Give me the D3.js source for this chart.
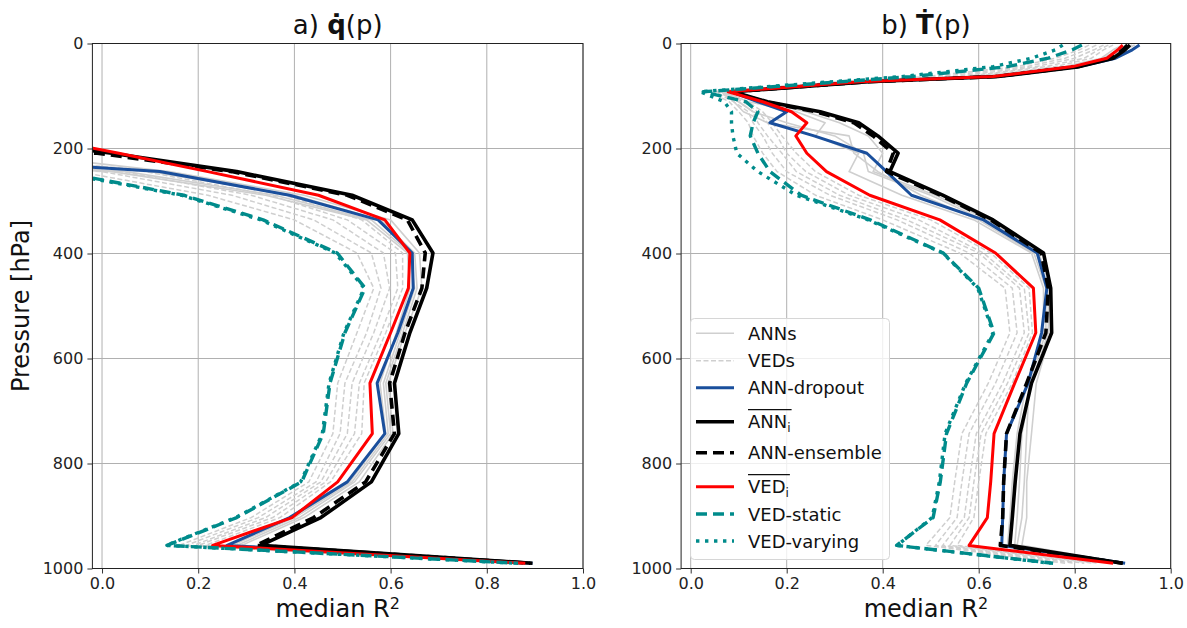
<!DOCTYPE html>
<html><head><meta charset="utf-8">
<script src="https://cdn.jsdelivr.net/npm/d3@7"></script>
<style>body{margin:0;background:#fff}text{font-family:"DejaVu Sans",sans-serif}</style>
</head><body><svg id="c" width="1187" height="628"></svg>
<script>
// pressure levels [hPa]
const levels = [3,12,28,44,63,73,92,111,130,151,176,209,244,289,336,399,466,551,647,743,835,903,956,990];
const xTicks = [0.0,0.2,0.4,0.6,0.8,1.0];
const yTicks = [0,200,400,600,800,1000];
const U = -3; // off-axis (strongly negative R2)

// ---- panel a: q-dot ----
const qANNs = [
  [U,U,U,U,U,U,U,U,U,U,-2,-0.3,0.10,0.40,0.58,0.65,0.655,0.625,0.59,0.60,0.525,0.41,0.28,0.89],
  [U,U,U,U,U,U,U,U,U,U,-2,-0.6,0.05,0.36,0.56,0.64,0.65,0.62,0.585,0.595,0.52,0.40,0.27,0.89],
  [U,U,U,U,U,U,U,U,U,U,-2,-0.2,0.14,0.42,0.60,0.66,0.665,0.63,0.595,0.605,0.535,0.42,0.29,0.89],
  [U,U,U,U,U,U,U,U,U,U,-2,-0.9,0.02,0.34,0.55,0.635,0.64,0.612,0.578,0.59,0.515,0.395,0.265,0.885]
];
const qVEDs = [
  [U,U,U,U,U,U,U,U,U,U,-2,-1.0,-0.05,0.22,0.40,0.53,0.565,0.53,0.49,0.48,0.43,0.31,0.16,0.87],
  [U,U,U,U,U,U,U,U,U,U,-2,-0.8,0.00,0.27,0.44,0.56,0.58,0.55,0.505,0.495,0.445,0.325,0.175,0.87],
  [U,U,U,U,U,U,U,U,U,U,-2,-0.6,0.04,0.31,0.48,0.585,0.598,0.565,0.52,0.51,0.455,0.34,0.19,0.875],
  [U,U,U,U,U,U,U,U,U,U,-2,-0.4,0.09,0.35,0.51,0.61,0.615,0.58,0.535,0.525,0.465,0.355,0.20,0.875],
  [U,U,U,U,U,U,U,U,U,U,-2,-0.3,0.12,0.38,0.54,0.625,0.625,0.59,0.545,0.54,0.475,0.37,0.215,0.88]
];
const qAnnDropout = [U,U,U,U,U,U,U,U,U,U,-2,-0.49,0.12,0.39,0.574,0.645,0.647,0.615,0.572,0.588,0.51,0.39,0.26,0.895];
const qAnnMean    = [U,U,U,U,U,U,U,U,U,U,-0.25,0.02,0.28,0.52,0.645,0.688,0.675,0.64,0.608,0.617,0.56,0.455,0.33,0.895];
const qAnnEns     = [U,U,U,U,U,U,U,U,U,U,-1,-0.01,0.27,0.51,0.635,0.672,0.665,0.63,0.598,0.608,0.548,0.44,0.32,0.89];
const qVedMean    = [U,U,U,U,U,U,U,U,U,U,-0.15,0.035,0.22,0.45,0.588,0.64,0.637,0.60,0.557,0.562,0.49,0.395,0.23,0.88];
const qVedStatic  = [U,U,U,U,U,U,U,U,U,U,-2,-1,-0.09,0.17,0.335,0.489,0.547,0.505,0.474,0.46,0.415,0.28,0.135,0.865];
const qVedVarying = [U,U,U,U,U,U,U,U,U,U,-2,-1,-0.10,0.165,0.33,0.485,0.545,0.503,0.472,0.458,0.413,0.278,0.133,0.86];

// ---- panel b: T-dot ----
const tANNs = [
  [0.92,0.90,0.87,0.80,0.62,0.34,0.07,0.10,0.13,0.20,0.30,0.36,0.37,0.50,0.61,0.72,0.745,0.745,0.71,0.69,0.685,0.68,0.675,0.90],
  [0.91,0.89,0.86,0.79,0.61,0.33,0.07,0.12,0.22,0.28,0.26,0.35,0.33,0.44,0.59,0.71,0.735,0.735,0.70,0.68,0.67,0.665,0.66,0.895],
  [0.90,0.88,0.855,0.78,0.60,0.32,0.065,0.09,0.11,0.16,0.33,0.34,0.39,0.48,0.60,0.715,0.74,0.74,0.705,0.70,0.695,0.69,0.68,0.90],
  [0.925,0.905,0.875,0.80,0.63,0.35,0.08,0.15,0.24,0.31,0.37,0.40,0.38,0.51,0.62,0.725,0.75,0.75,0.72,0.71,0.70,0.70,0.69,0.905]
];
const tVEDs = [
  [0.83,0.81,0.76,0.68,0.49,0.31,0.04,0.08,0.10,0.12,0.13,0.15,0.18,0.26,0.40,0.56,0.655,0.665,0.62,0.565,0.55,0.54,0.49,0.78],
  [0.845,0.825,0.78,0.70,0.52,0.32,0.05,0.09,0.12,0.13,0.15,0.17,0.20,0.29,0.43,0.58,0.67,0.68,0.635,0.58,0.565,0.555,0.51,0.80],
  [0.86,0.84,0.80,0.72,0.55,0.33,0.055,0.10,0.13,0.14,0.16,0.19,0.22,0.31,0.45,0.60,0.685,0.695,0.65,0.595,0.58,0.57,0.525,0.82],
  [0.87,0.85,0.82,0.74,0.57,0.34,0.06,0.11,0.14,0.16,0.18,0.20,0.24,0.33,0.475,0.61,0.695,0.705,0.66,0.605,0.59,0.58,0.54,0.84],
  [0.88,0.86,0.835,0.76,0.59,0.345,0.065,0.12,0.15,0.17,0.19,0.22,0.26,0.35,0.50,0.625,0.705,0.712,0.67,0.615,0.60,0.59,0.555,0.85]
];
const tAnnDropout = [0.935,0.92,0.885,0.81,0.64,0.36,0.085,0.14,0.20,0.165,0.257,0.367,0.408,0.46,0.61,0.722,0.742,0.731,0.703,0.658,0.652,0.65,0.648,0.905];
const tAnnMean    = [0.915,0.905,0.88,0.81,0.64,0.37,0.088,0.16,0.27,0.35,0.39,0.432,0.415,0.525,0.63,0.735,0.75,0.752,0.71,0.686,0.676,0.67,0.665,0.90];
const tAnnEns     = [0.91,0.90,0.875,0.805,0.635,0.365,0.085,0.155,0.26,0.34,0.38,0.422,0.408,0.52,0.625,0.73,0.745,0.74,0.70,0.658,0.652,0.65,0.645,0.90];
const tVedMean    = [0.90,0.89,0.867,0.796,0.63,0.353,0.078,0.15,0.21,0.242,0.219,0.242,0.283,0.373,0.519,0.635,0.714,0.719,0.675,0.632,0.625,0.618,0.58,0.88];
const tVedStatic  = [0.815,0.795,0.745,0.66,0.46,0.31,0.026,0.115,0.14,0.13,0.124,0.14,0.165,0.23,0.374,0.526,0.60,0.632,0.575,0.533,0.52,0.505,0.429,0.755];
const tVedVarying = [0.775,0.76,0.71,0.63,0.44,0.29,0.02,0.07,0.085,0.085,0.088,0.096,0.14,0.22,0.37,0.525,0.598,0.63,0.573,0.53,0.518,0.503,0.43,0.75];

const legendLabels = ["ANNs","VEDs","ANN-dropout","ANN_i","ANN-ensemble","VED_i","VED-static","VED-varying"];

const GRAY = "#cfcfcf", BLUE = "#1a4f9c", TEAL = "#008b8b";
const styles = {
  ANNs:        {stroke:GRAY, w:1.6, dash:null},
  VEDs:        {stroke:GRAY, w:1.5, dash:"5,2.5"},
  "ANN-dropout":{stroke:BLUE, w:3, dash:null},
  ANN_i:       {stroke:"#000", w:3.6, dash:null},
  "ANN-ensemble":{stroke:"#000", w:3.6, dash:"11,6"},
  VED_i:       {stroke:"#ff0000", w:3, dash:null},
  "VED-static":{stroke:TEAL, w:3.4, dash:"11,6"},
  "VED-varying":{stroke:TEAL, w:3.4, dash:"3.4,5.6"}
};

const svg = d3.select("#c");
const yTop = 43.5, yBot = 568.5;

function panel(id, left, right, title, boldSym, data) {
  const x = d3.scaleLinear().domain([-0.02, 1.0]).range([left, right]);
  const y = d3.scaleLinear().domain([0, 1000]).range([yTop, yBot]);
  const g = svg.append("g");
  g.append("clipPath").attr("id", "clip" + id).append("rect")
    .attr("x", left).attr("y", yTop).attr("width", right - left).attr("height", yBot - yTop);
  // grid
  g.selectAll(".gx").data(xTicks).enter().append("line")
    .attr("x1", d => x(d)).attr("x2", d => x(d)).attr("y1", yTop).attr("y2", yBot)
    .attr("stroke", "#b0b0b0").attr("stroke-width", 1);
  g.selectAll(".gy").data(yTicks).enter().append("line")
    .attr("y1", d => y(d)).attr("y2", d => y(d)).attr("x1", left).attr("x2", right)
    .attr("stroke", "#b0b0b0").attr("stroke-width", 1);
  const line = d3.line().x(d => x(d[0])).y(d => y(d[1]));
  const lg = g.append("g").attr("clip-path", `url(#clip${id})`);
  function draw(vals, key) {
    const s = styles[key];
    lg.append("path").attr("d", line(vals.map((v, i) => [v, levels[i]])))
      .attr("fill", "none").attr("stroke", s.stroke).attr("stroke-width", s.w)
      .attr("stroke-dasharray", s.dash).attr("stroke-linejoin", "round");
  }
  data.anns.forEach(v => draw(v, "ANNs"));
  data.veds.forEach(v => draw(v, "VEDs"));
  draw(data.drop, "ANN-dropout");
  draw(data.annMean, "ANN_i");
  draw(data.ens, "ANN-ensemble");
  draw(data.vedMean, "VED_i");
  draw(data.stat, "VED-static");
  draw(data.vary, "VED-varying");
  // axes
  const ax = g.append("g").attr("transform", `translate(0,${yBot})`)
    .call(d3.axisBottom(x).tickValues(xTicks).tickFormat(d3.format(".1f")).tickSize(5).tickPadding(4));
  const ay = g.append("g").attr("transform", `translate(${left},0)`)
    .call(d3.axisLeft(y).tickValues(yTicks).tickFormat(d3.format("d")).tickSize(5).tickPadding(4));
  [ax, ay].forEach(a => {
    a.select(".domain").remove();
    a.selectAll("text").attr("font-size", 16).attr("fill", "#222").style("font-family", "DejaVu Sans");
    a.selectAll("line").attr("stroke", "#333");
  });
  g.append("rect").attr("x", left).attr("y", yTop).attr("width", right - left).attr("height", yBot - yTop)
    .attr("fill", "none").attr("stroke", "#222").attr("stroke-width", 1);
  // title
  const t = g.append("text").attr("x", (left + right) / 2).attr("y", 34).attr("text-anchor", "middle")
    .attr("font-size", 26).attr("fill", "#111");
  t.append("tspan").text(title);
  t.append("tspan").attr("font-weight", "bold").text(boldSym);
  t.append("tspan").text("(p)");
  // x label
  const xl = g.append("text").attr("x", (left + right) / 2).attr("y", 617).attr("text-anchor", "middle")
    .attr("font-size", 24).attr("fill", "#111");
  xl.append("tspan").text("median R");
  xl.append("tspan").attr("font-size", 16).attr("dy", -8).text("2");
  return {x, y};
}

panel("a", 92.4, 583, "a) ", "q\u0307", {anns:qANNs, veds:qVEDs, drop:qAnnDropout, annMean:qAnnMean, ens:qAnnEns, vedMean:qVedMean, stat:qVedStatic, vary:qVedVarying});
panel("b", 681.1, 1170.7, "b) ", "T\u0307", {anns:tANNs, veds:tVEDs, drop:tAnnDropout, annMean:tAnnMean, ens:tAnnEns, vedMean:tVedMean, stat:tVedStatic, vary:tVedVarying});

// y label
svg.append("text").attr("transform", "translate(29,306) rotate(-90)").attr("text-anchor", "middle")
  .attr("font-size", 24).attr("fill", "#111").text("Pressure [hPa]");

// legend
const leg = svg.append("g");
leg.append("rect").attr("x", 690.5).attr("y", 318.5).attr("width", 199).attr("height", 241).attr("rx", 4)
  .attr("fill", "#fff").attr("fill-opacity", 0.8).attr("stroke", "#d6d6d6").attr("stroke-width", 1);
const rowY = [333.3, 360.7, 387.7, 421.7, 452.7, 486.7, 514, 541];
legendLabels.forEach((lab, i) => {
  const s = styles[lab], yy = rowY[i];
  leg.append("line").attr("x1", 696).attr("x2", 734).attr("y1", yy).attr("y2", yy)
    .attr("stroke", s.stroke).attr("stroke-width", s.w).attr("stroke-dasharray", s.dash);
  const tx = leg.append("text").attr("x", 748).attr("y", yy + 6.5).attr("font-size", 18).attr("fill", "#111");
  if (lab.endsWith("_i")) {
    tx.append("tspan").text(lab.slice(0, -2));
    tx.append("tspan").attr("font-size", 12).attr("dy", 4).text("i");
    const w = tx.node().getComputedTextLength();
    leg.append("line").attr("x1", 748).attr("x2", 748 + w + 1).attr("y1", yy - 12).attr("y2", yy - 12)
      .attr("stroke", "#111").attr("stroke-width", 1.3);
  } else {
    tx.text(lab);
  }
});
</script></body></html>
